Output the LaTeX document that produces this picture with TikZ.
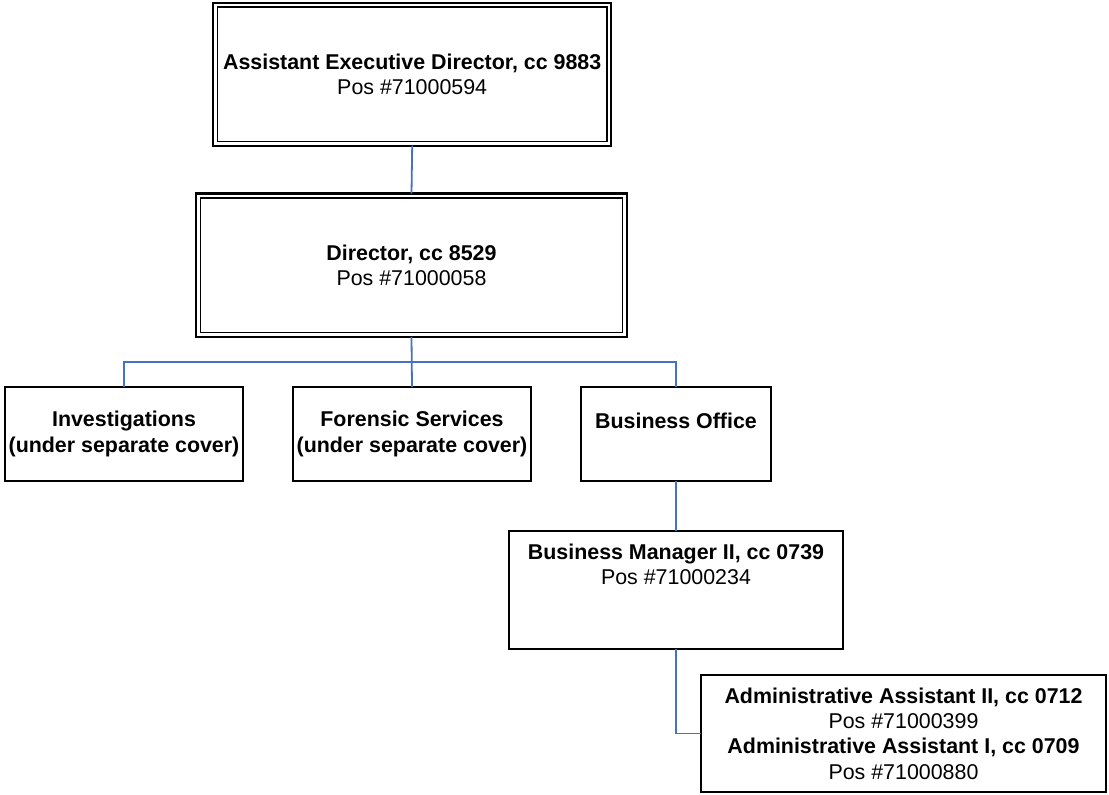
\documentclass[tikz,border=0pt]{standalone}
\usepackage{fontspec}
\setmainfont{Liberation Sans}
\definecolor{conn}{HTML}{4472C4}
\begin{document}
\begin{tikzpicture}[x=1pt,y=-1pt,
  box/.style={draw=black, line width=2.2pt, rectangle, inner sep=0pt, outer sep=0pt, fill=none},
  txt/.style={inner sep=0pt, align=center, font=\fontsize{21.4}{25.3}\selectfont},
  link/.style={draw=conn, line width=1.8pt}]
\useasboundingbox (0,0) rectangle (1109,795);
% boxes
\node[box, minimum width=398pt, minimum height=143pt] (aed) at (412.2,74.2) {};
\node[box, minimum width=431pt, minimum height=143.5pt] (dir) at (411.5,265.3) {};
\node[box, minimum width=238pt, minimum height=94pt] (inv) at (124,434) {};
\node[box, minimum width=238pt, minimum height=94pt] (for) at (412,434) {};
\node[box, minimum width=190pt, minimum height=94pt] (bo) at (676,434) {};
\node[box, minimum width=334pt, minimum height=118pt] (bm) at (676,590) {};
\node[box, minimum width=405pt, minimum height=117pt] (adm) at (903.5,733.5) {};
% inner lines of double boxes
\draw[line width=1.6pt] ([xshift=4.4pt,yshift=-4.4pt]aed.north west) rectangle ([xshift=-4.4pt,yshift=4.4pt]aed.south east);
\draw[line width=1.6pt] ([xshift=4.6pt,yshift=-4.6pt]dir.north west) rectangle ([xshift=-4.6pt,yshift=4.6pt]dir.south east);
% texts
\node[txt] (aedt) at (aed.center) {\textbf{Assistant Executive Director, cc 9883}\\Pos \#71000594};
\node[txt] (dirt) at (dir.center) {\textbf{Director, cc 8529}\\Pos \#71000058};
\node[txt] (invt) at (inv.center) {\textbf{Investigations}\\\textbf{(under separate cover)}};
\node[txt] (fort) at (for.center) {\textbf{Forensic Services}\\\textbf{(under separate cover)}};
\node[txt] (bot) at (676,421) {\textbf{Business Office}};
\node[txt] (bmt) at (676,564) {\textbf{Business Manager II, cc 0739}\\Pos \#71000234};
\node[txt] (admt) at (adm.center) {\textbf{Administrative Assistant II, cc 0712}\\Pos \#71000399\\\textbf{Administrative Assistant I, cc 0709}\\Pos \#71000880};
% connectors
\coordinate (bus) at (412,362);
\draw[link] (aed.south) -- (dir.north);
\draw[link] (dir.south) -- (for.north);
\draw[link] (inv.north) |- (bus) -| (bo.north);
\draw[link] (bo.south) -- (bm.north);
\draw[link] (bm.south) |- (adm.west);
\end{tikzpicture}
\end{document}
